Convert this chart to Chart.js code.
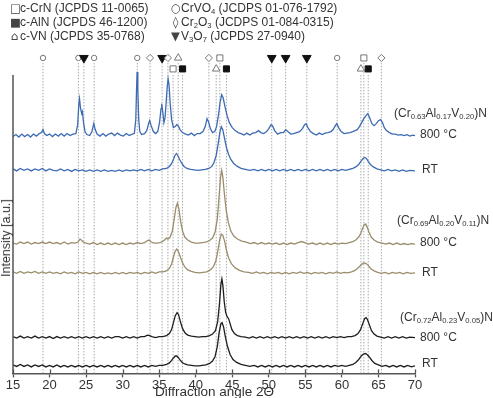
<!DOCTYPE html>
<html>
<head>
<meta charset="utf-8">
<script src="https://cdn.jsdelivr.net/npm/chart.js@4"></script>
<style>
  html,body{margin:0;padding:0;background:#fff;}
  #wrap{position:relative;width:493px;height:398px;overflow:hidden;font-family:"Liberation Sans",Arial,sans-serif;color:#333;}
  canvas{position:absolute;left:0;top:0;}
  .t{position:absolute;white-space:nowrap;font-size:12px;line-height:14px;}
  .sym{font-family:"DejaVu Sans",sans-serif;font-size:11.5px;display:inline-block;width:9px;text-align:center;margin-right:1px;color:#444;}
  sub{font-size:0.64em;vertical-align:-0.3em;line-height:0;}
  .lab{position:absolute;white-space:nowrap;font-size:12px;line-height:14px;}
</style>
</head>
<body>
<div id="wrap">
  <canvas id="c" width="493" height="398"></canvas>
  <div class="t" style="left:10px;top:1px;"><span class="sym">□</span>c-CrN (JCPDS 11-0065)</div>
  <div class="t" style="left:10px;top:15px;"><span class="sym">■</span>c-AlN (JCPDS 46-1200)</div>
  <div class="t" style="left:10px;top:29px;"><span class="sym">⌂</span>c-VN (JCPDS 35-0768)</div>
  <div class="t" style="left:171px;top:1px;"><span class="sym">○</span>CrVO<sub>4</sub> (JCDPS 01-076-1792)</div>
  <div class="t" style="left:171px;top:15px;"><span class="sym">◊</span>Cr<sub>2</sub>O<sub>3</sub> (JCDPS 01-084-0315)</div>
  <div class="t" style="left:171px;top:29px;"><span class="sym">▼</span>V<sub>3</sub>O<sub>7</sub> (JCPDS 27-0940)</div>

  <div class="lab" style="left:394px;top:106px;">(Cr<sub>0.63</sub>Al<sub>0.17</sub>V<sub>0.20</sub>)N</div>
  <div class="lab" style="left:420px;top:127px;">800 °C</div>
  <div class="lab" style="left:422px;top:162px;">RT</div>
  <div class="lab" style="left:397px;top:213px;">(Cr<sub>0.69</sub>Al<sub>0.20</sub>V<sub>0.11</sub>)N</div>
  <div class="lab" style="left:420px;top:235px;">800 °C</div>
  <div class="lab" style="left:422px;top:265px;">RT</div>
  <div class="lab" style="left:400px;top:310px;">(Cr<sub>0.72</sub>Al<sub>0.23</sub>V<sub>0.05</sub>)N</div>
  <div class="lab" style="left:420px;top:330px;">800 °C</div>
  <div class="lab" style="left:422px;top:356px;">RT</div>

  <div class="t" style="left:6px;top:238px;transform:translate(-50%,-50%) rotate(-90deg);font-size:12.5px;">Intensity [a.u.]</div>
  <div class="t" style="left:155px;top:385px;font-size:13.5px;">Diffraction angle 2Θ</div>
</div>
<script>
// ---- data (2θ in degrees, intensity in arbitrary units incl. vertical offset) ----
const xTicks = [15, 20, 25, 30, 35, 40, 45, 50, 55, 60, 65, 70];

const blue800 = [[15,238],[15.4,240],[15.8,237.5],[16.2,240.5],[16.6,238],[17,240],[17.4,237.5],[17.8,240.5],[18.2,238.5],[18.6,241],[18.9,242],[19.1,245],[19.3,241],[19.6,239],[20,240.5],[20.4,238],[20.8,240.5],[21.2,238.5],[21.6,241],[22,238.5],[22.4,241],[22.8,239],[23.2,240.5],[23.6,241],[23.85,250],[24.0,270],[24.1,276],[24.25,266],[24.4,261],[24.5,263],[24.65,252],[24.85,243],[25.1,240],[25.5,239],[25.8,243],[26.05,251],[26.25,245],[26.5,240.5],[26.9,238.5],[27.3,241],[27.7,238.5],[28.1,240.5],[28.5,241.5],[28.9,239],[29.3,241.5],[29.7,239.5],[30.1,238.5],[30.5,241],[30.9,239],[31.3,240.5],[31.6,241],[31.8,255],[31.9,285],[31.98,303],[32.08,285],[32.2,255],[32.35,243],[32.6,240],[33.0,241],[33.3,244],[33.55,251],[33.7,254],[33.9,249],[34.2,243],[34.5,241],[34.8,243],[35.05,252],[35.25,266],[35.35,271],[35.5,262],[35.65,252],[35.8,257],[35.95,272],[36.1,288],[36.22,296],[36.35,290],[36.5,272],[36.7,255],[36.95,247],[37.2,248],[37.4,250],[37.6,249],[37.85,245],[38.2,242],[38.6,240.5],[39,239.5],[39.4,241.5],[39.8,239],[40.2,241],[40.6,241],[41.0,243],[41.3,248],[41.55,256],[41.75,253],[42.0,246],[42.3,242],[42.6,243],[42.85,248],[43.1,259],[43.35,273],[43.55,280],[43.75,277],[44.0,268],[44.3,259],[44.6,252],[45.0,247],[45.4,244],[45.8,242],[46.2,241],[46.6,239.5],[47,241.5],[47.4,239.5],[47.8,241.5],[48.2,242],[48.6,244],[48.9,242],[49.3,241],[49.7,243],[50.0,246],[50.3,250],[50.5,249],[50.8,244],[51.2,240.5],[51.6,242],[52.0,242],[52.3,245],[52.6,243],[53.0,240.5],[53.4,241],[53.8,242],[54.2,243],[54.6,246],[54.9,250],[55.1,251],[55.35,247],[55.7,243],[56.1,241],[56.5,239.5],[56.9,241.5],[57.3,240],[57.7,241.5],[58.1,242],[58.5,243],[58.8,245],[59.1,249],[59.3,251],[59.55,247],[59.9,243],[60.3,241],[60.7,241.5],[61.1,242],[61.5,243],[61.8,244],[62.1,245],[62.4,248],[62.7,252],[63.0,256],[63.3,259],[63.55,261],[63.8,257],[64.1,251],[64.4,249],[64.7,251],[65.0,254],[65.3,255],[65.55,252],[65.8,247],[66.1,244],[66.5,242],[66.9,240.5],[67.3,240.5],[67.7,239.5],[68.1,240],[68.5,239],[68.9,240],[69.3,238.5],[69.7,239.5],[70,239]];

const blueRT = [[15,205.5],[15.5,203.5],[16,206],[16.5,204],[17,205.5],[17.5,203.5],[18,205.5],[18.5,204],[19,206],[19.5,203.5],[20,205.5],[20.5,204],[21,203.5],[21.5,205.5],[22,203.5],[22.5,205],[23,203],[23.5,205],[24,203.5],[24.5,204.5],[25,203],[25.5,204.5],[26,203],[26.5,204.5],[27,203],[27.5,204.5],[28,203],[28.5,204],[29,203],[29.5,204.5],[30,203],[30.5,204.5],[31,203.5],[31.5,204.5],[32,203.5],[32.5,205],[33,203.5],[33.5,205],[34,203.5],[34.5,205],[35,204],[35.5,205.5],[36,206],[36.4,208],[36.7,211],[36.95,215],[37.15,219],[37.35,221],[37.55,219],[37.8,215],[38.1,211],[38.4,208],[38.8,206],[39.3,205],[39.8,204.5],[40.3,204],[40.8,204.5],[41.3,205],[41.8,206],[42.2,208],[42.5,212],[42.8,219],[43.05,230],[43.3,242],[43.5,248],[43.7,245],[43.95,236],[44.2,227],[44.5,220],[44.8,215],[45.2,211],[45.7,208],[46.2,206],[46.8,205],[47.4,204],[48,205],[48.5,203.5],[49,205],[49.5,203.5],[50,205],[50.5,203.5],[51,205],[51.5,203.5],[52,205],[52.5,203.5],[53,205],[53.5,203.5],[54,205],[54.5,203.5],[55,205],[55.5,203.5],[56,205],[56.5,203.5],[57,205],[57.5,203.5],[58,205],[58.5,203.5],[59,205],[59.5,203.5],[60,205],[60.5,204],[61,205],[61.5,206],[61.9,207.5],[62.3,210],[62.6,213],[62.9,216],[63.1,217],[63.35,216],[63.6,213],[63.9,210],[64.3,207.5],[64.8,205.5],[65.3,204.5],[65.8,203.5],[66.3,205],[66.8,203.5],[67.3,204.5],[67.8,203],[68.3,204.5],[68.8,203],[69.3,204],[70,203.5]];

const brown800 = [[15,131],[15.5,130],[16,132],[16.5,130.5],[17,132],[17.5,130],[18,131.5],[18.5,130.5],[19,132],[19.5,130.5],[20,132],[20.5,130.5],[21,131.5],[21.5,130],[22,132],[22.5,130],[23,131.5],[23.5,131],[23.9,132],[24.15,135],[24.35,134],[24.6,132],[25,131],[25.5,130],[26,131.5],[26.5,129.5],[27,131],[27.5,129.5],[28,131],[28.5,129.5],[29,131],[29.5,129.5],[30,131],[30.5,129.5],[31,131],[31.5,130],[32,131.5],[32.5,130.5],[33,131.5],[33.4,133.5],[33.65,134],[33.9,132],[34.3,131],[34.7,131],[35.1,131.5],[35.5,132.5],[35.8,134.5],[36.0,136],[36.2,135],[36.5,137],[36.8,143],[37.05,155],[37.3,167],[37.5,171],[37.7,165],[37.95,152],[38.2,143],[38.5,137],[38.9,134],[39.4,132],[39.9,131],[40.4,131],[40.9,131.5],[41.4,132],[41.9,133.5],[42.3,136],[42.65,142],[42.95,155],[43.2,178],[43.4,197],[43.55,204],[43.7,198],[43.9,182],[44.15,165],[44.45,152],[44.8,143],[45.2,138],[45.7,135],[46.3,133],[46.9,132],[47.5,130.5],[48,131.5],[48.5,130],[49,131.5],[49.5,130],[50,131],[50.5,130],[51,131],[51.5,129.5],[52,131],[52.5,129.5],[53,131],[53.5,130],[54,131.5],[54.5,132.5],[54.9,131.5],[55.4,130],[56,131],[56.5,129.5],[57,131],[57.5,129.5],[58,131],[58.5,129.5],[59,131],[59.5,130],[60,131],[60.5,130.5],[61,131.5],[61.5,132.5],[61.9,134],[62.3,137],[62.6,141],[62.85,146],[63.05,149.5],[63.25,150],[63.45,147],[63.7,142],[64.0,137],[64.4,134],[64.9,132],[65.5,131],[66,130],[66.5,131],[67,129.5],[67.5,131],[68,129.5],[68.5,130.5],[69,129.5],[69.5,130.5],[70,130]];

const brownRT = [[15,102],[15.5,100.5],[16,102.5],[16.5,100.5],[17,102],[17.5,101],[18,102.5],[18.5,100.5],[19,102],[19.5,100.5],[20,102],[20.5,100.5],[21,101.5],[21.5,100],[22,102],[22.5,100.5],[23,101.5],[23.5,100],[24,102],[24.5,100.5],[25,101.5],[25.5,100],[26,101.5],[26.5,100],[27,101.5],[27.5,100],[28,101],[28.5,100],[29,101.5],[29.5,100],[30,101.5],[30.5,100],[31,101.5],[31.5,100.5],[32,101.5],[32.5,100],[33,101.5],[33.5,100.5],[34,102],[34.5,100.5],[35,102],[35.5,102],[36,103],[36.4,105.5],[36.7,110],[36.95,117],[37.2,123],[37.4,125],[37.6,123],[37.85,118],[38.15,112],[38.5,107],[38.9,104],[39.4,102.5],[39.9,101.5],[40.5,101],[41,101.5],[41.5,102],[42,104],[42.4,107],[42.75,113],[43.0,122],[43.25,133],[43.5,140],[43.7,139],[43.95,133],[44.2,124],[44.5,116],[44.9,110],[45.4,106],[46,103.5],[46.6,102],[47.2,101.5],[47.8,100.5],[48.3,102],[48.8,100.5],[49.3,101.5],[49.8,100],[50.3,101.5],[50.8,100.5],[51.3,101.5],[51.8,100],[52.3,101.5],[52.8,100],[53.3,101.5],[53.8,100.5],[54.3,102],[54.8,100.5],[55.3,101.5],[55.8,100],[56.3,101.5],[56.8,100.5],[57.3,101.5],[57.8,100],[58.3,101.5],[58.8,100.5],[59.3,102],[59.8,100.5],[60.3,101.5],[60.8,101],[61.3,102],[61.8,103.5],[62.2,106],[62.55,108.5],[62.85,110.5],[63.1,111],[63.4,110],[63.7,107.5],[64.0,105],[64.4,103],[64.9,101.5],[65.4,100.5],[65.9,101.5],[66.4,100],[66.9,101.5],[67.4,100.5],[67.9,101.5],[68.4,100],[68.9,101.5],[69.4,100.5],[70,101]];

const black800 = [[15,37],[15.5,35.5],[16,37.5],[16.5,35.5],[17,37],[17.5,35.5],[18,37.5],[18.5,35.5],[19,37],[19.5,35.5],[20,37],[20.5,35],[21,37],[21.5,35.5],[22,37],[22.5,35.5],[23,37],[23.5,35.5],[24,37],[24.5,35.5],[25,37],[25.5,35.5],[26,37],[26.5,35.5],[27,37],[27.5,35.5],[28,37],[28.5,35.5],[29,37],[29.5,37],[30,35.5],[30.5,37],[31,35.5],[31.5,37],[32,35.5],[32.5,37],[33,37],[33.4,38.5],[33.7,38],[34,37],[34.5,36],[35,37],[35.5,37],[36,38],[36.4,40],[36.7,44],[36.95,51],[37.2,58],[37.45,61],[37.65,59],[37.9,52],[38.2,45],[38.55,40.5],[38.9,38.5],[39.4,37.5],[39.9,37],[40.4,36.5],[40.9,37],[41.4,37],[41.9,38],[42.3,39.5],[42.7,43],[43.0,52],[43.25,70],[43.45,90],[43.58,95],[43.72,88],[43.9,72],[44.1,61],[44.3,57],[44.5,55],[44.7,50],[44.95,44],[45.3,40],[45.7,38],[46.2,37],[46.8,36.5],[47.3,35.5],[47.8,37],[48.3,35.5],[48.8,37],[49.3,35.5],[49.8,37],[50.3,35.5],[50.8,37],[51.3,35.5],[51.8,37],[52.3,35.5],[52.8,37],[53.3,35.5],[53.8,37],[54.3,35.5],[54.8,37],[55.3,35.5],[55.8,37],[56.3,35.5],[56.8,37],[57.3,35.5],[57.8,37],[58.3,35.5],[58.8,37],[59.3,36],[59.8,37],[60.3,36],[60.8,37],[61.3,37],[61.8,38],[62.2,40],[62.55,44],[62.85,50],[63.1,55],[63.3,56],[63.5,54],[63.75,49],[64.05,43],[64.4,39.5],[64.8,37.5],[65.3,36.5],[65.8,35.5],[66.3,37],[66.8,35.5],[67.3,37],[67.8,35.5],[68.3,37],[68.8,35.5],[69.3,36.5],[70,36]];

const blackRT = [[15,8.5],[15.5,7],[16,9],[16.5,7],[17,8.5],[17.5,6.5],[18,8.5],[18.5,7],[19,8.5],[19.5,6.5],[20,8],[20.5,6.5],[21,8.5],[21.5,6.5],[22,8],[22.5,6.5],[23,8],[23.5,6.5],[24,8],[24.5,6.5],[25,8],[25.5,6.5],[26,8],[26.5,6.5],[27,8],[27.5,6.5],[28,8],[28.5,6.5],[29,8],[29.5,6.5],[30,8],[30.5,6.5],[31,8],[31.5,6.5],[32,8],[32.5,6.5],[33,8],[33.5,6.5],[34,8],[34.5,7],[35,8],[35.5,8],[36,9],[36.4,10.5],[36.7,13],[36.95,15.5],[37.2,17.5],[37.4,17.5],[37.6,16],[37.85,13.5],[38.15,11],[38.5,9.5],[38.9,8.5],[39.4,8],[39.9,7.5],[40.4,7.5],[40.9,8],[41.4,8.5],[41.9,10],[42.3,12.5],[42.65,17],[42.95,27],[43.2,41],[43.45,50],[43.6,51],[43.8,47],[44.05,37],[44.35,27],[44.7,19],[45.1,14],[45.6,11],[46.2,9],[46.8,8],[47.4,7],[48,8],[48.5,6.5],[49,8],[49.5,6.5],[50,8],[50.5,6.5],[51,8],[51.5,6.5],[52,8],[52.5,6.5],[53,8],[53.5,6.5],[54,8],[54.5,6.5],[55,8],[55.5,6.5],[56,8],[56.5,6.5],[57,8],[57.5,6.5],[58,8],[58.5,6.5],[59,8],[59.5,7],[60,8],[60.5,7],[61,8],[61.5,9],[61.9,11],[62.3,14],[62.65,17.5],[62.95,19.5],[63.2,20],[63.45,19],[63.75,16.5],[64.1,13],[64.5,10],[65,8.5],[65.5,7],[66,8],[66.5,6.5],[67,8],[67.5,6.5],[68,8],[68.5,6.5],[69,8],[69.5,6.5],[70,7.5]];

// reference reflections (2θ) and their phase
const refTheta = [19.1, 23.95, 24.7, 26.1, 32.0, 33.75, 35.4, 36.2, 36.9, 37.6, 38.2, 41.8, 42.8, 43.3, 44.2, 50.4, 52.3, 55.2, 59.35, 62.6, 63.0, 63.6, 65.4];
const refPhase = ['CrVO4','CrVO4','V3O7','CrVO4','CrVO4','Cr2O3','V3O7','Cr2O3','CrN','VN','AlN','Cr2O3','VN','CrN','AlN','V3O7','V3O7','V3O7','CrVO4','VN','CrN','AlN','Cr2O3'];

// ---- layout / style (not data) ----
const AXIS_TOP = 300;        // value where the drawn y axis line ends
const markerTier = [0,0,0,0,0,0,0,0,1,0,1,0,1,0,1,0,0,0,0,1,0,1,0]; // 0 upper row, 1 lower row
const TIER_Y = [317, 306];
const LINE_TOP = [312, 301];
const phaseStyle = {
  CrVO4: {pointStyle:'circle', radius:2.7, bg:'#fff', border:'#777', rot:0},
  V3O7:  {pointStyle:'triangle', radius:5, bg:'#111', border:'#111', rot:180},
  Cr2O3: {pointStyle:'rectRot', radius:3.6, bg:'#fff', border:'#777', rot:0},
  CrN:   {pointStyle:'rect', radius:4.3, bg:'#fff', border:'#777', rot:0},
  AlN:   {pointStyle:'rect', radius:4.3, bg:'#111', border:'#111', rot:0},
  VN:    {pointStyle:'triangle', radius:4.3, bg:'#fff', border:'#777', rot:0}
};

const BLUE = '#3d6bb3', BROWN = '#9a8d6c', BLACK = '#1e1e1e';

function curve(data, color) {
  return {type:'line', data: data, borderColor: color, borderWidth: 1.3, pointRadius: 0,
          tension: 0, clip: false, order: 1};
}

const refLines = refTheta.map((t, i) => ({
  type: 'line',
  data: [[t, 0], [t, LINE_TOP[markerTier[i]]]],
  borderColor: '#a8a8a8', borderWidth: 1, borderDash: [1.5, 1.5],
  pointRadius: 0, clip: false, order: 5
}));

const markerDs = {
  type: 'scatter',
  data: refTheta.map((t, i) => ({x: t, y: TIER_Y[markerTier[i]]})),
  pointStyle: refPhase.map(p => phaseStyle[p].pointStyle),
  pointRadius: refPhase.map(p => phaseStyle[p].radius),
  pointBackgroundColor: refPhase.map(p => phaseStyle[p].bg),
  pointBorderColor: refPhase.map(p => phaseStyle[p].border),
  pointRotation: refPhase.map(p => phaseStyle[p].rot),
  pointBorderWidth: 1,
  clip: false, order: 0
};

const axesPlugin = {
  id: 'axesPlugin',
  afterDraw(chart) {
    const xs = chart.scales.x, ys = chart.scales.y, ctx = chart.ctx, yb = chart.chartArea.bottom;
    ctx.save();
    ctx.strokeStyle = '#555';
    ctx.lineWidth = 1.5;
    const xl = chart.chartArea.left;
    ctx.beginPath(); ctx.moveTo(xl, ys.getPixelForValue(0)); ctx.lineTo(xl, ys.getPixelForValue(AXIS_TOP)); ctx.stroke();
    ctx.lineWidth = 1.3;
    xTicks.forEach(v => {
      const px = Math.round(xs.getPixelForValue(v)) + 0.5;
      ctx.beginPath(); ctx.moveTo(px, yb - 4); ctx.lineTo(px, yb); ctx.stroke();
    });
    ctx.restore();
  }
};

new Chart(document.getElementById('c'), {
  data: {
    datasets: [
      curve(blue800, BLUE), curve(blueRT, BLUE),
      curve(brown800, BROWN), curve(brownRT, BROWN),
      curve(black800, BLACK), curve(blackRT, BLACK),
      ...refLines, markerDs
    ]
  },
  options: {
    responsive: false, animation: false, devicePixelRatio: 1,
    layout: {padding: {left: 13, right: 78, top: 50, bottom: 5}},
    plugins: {legend: {display: false}, tooltip: {enabled: false}},
    scales: {
      x: {
        type: 'linear', min: 15, max: 70,
        afterBuildTicks: (ax) => { ax.ticks = xTicks.map(v => ({value: v})); },
        ticks: {color: '#333', font: {family: '"Liberation Sans", Arial, sans-serif', size: 13}, padding: 0, maxRotation: 0},
        grid: {display: true, drawOnChartArea: false, tickLength: 4, color: '#555', tickWidth: 1.3},
        border: {display: true, color: '#555', width: 1.5}
      },
      y: {
        type: 'linear', min: 0, max: 325,
        ticks: {display: false},
        grid: {display: false, drawTicks: false},
        border: {display: false}
      }
    }
  },
  plugins: [axesPlugin]
});
</script>
</body>
</html>
